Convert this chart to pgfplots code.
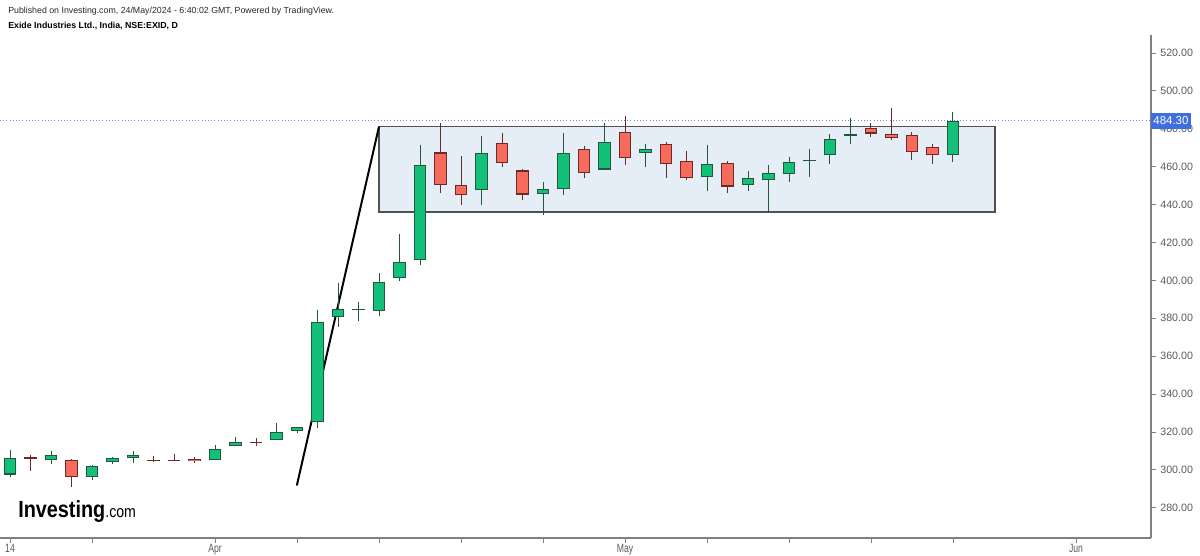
\documentclass[border=0pt]{standalone}
\usepackage{pgfplots}
\pgfplotsset{compat=1.18}
\usepackage{pgfplotstable}
\usepackage{fontspec}
\setmainfont{Liberation Sans}
\newfontfamily\narrowfont[FakeStretch=0.72]{Liberation Sans}
\newfontfamily\logofont[FakeStretch=0.85]{Liberation Sans}

\definecolor{upfill}{HTML}{12C07A}
\definecolor{upline}{HTML}{22573B}
\definecolor{dnfill}{HTML}{F76A5C}
\definecolor{dnline}{HTML}{6E2B25}
\definecolor{boxfill}{HTML}{E5EDF7}
\definecolor{boxline}{HTML}{505050}
\definecolor{pricebl}{HTML}{3D6FE0}
\definecolor{axgray}{HTML}{808080}
\definecolor{lblgray}{HTML}{5A5A5A}

% daily candles, index 0 = 14 Mar; bot/top = body (open/close)
% rising days: bot = open, top = close
\pgfplotstableread{
i low high bot top
0 296.0 310.6 297.5 306.3
2 303.2 309.7 305.0 307.6
4 294.7 302.6 296.4 302.1
5 303.2 307.0 304.0 306.3
6 303.8 309.7 306.2 308.0
10 305.0 313.2 305.3 311.1
11 312.3 317.4 312.5 314.6
13 315.5 324.7 315.9 319.9
14 319.6 322.8 320.4 322.6
15 322.2 384.4 325.2 378.0
16 375.5 398.5 380.5 384.7
17 378.7 388.8 384.3 385.1
18 381.2 403.8 384.0 398.9
19 399.7 424.6 401.3 409.8
20 408.2 471.3 410.9 460.7
23 440.0 476.2 447.6 467.0
26 434.7 452.0 445.5 448.3
27 445.3 478.0 448.0 467.4
29 458.0 482.9 458.5 473.2
31 460.0 471.8 467.4 469.5
34 447.0 471.3 454.5 461.2
36 447.0 457.8 450.1 454.0
37 435.8 460.8 452.7 456.5
38 452.0 465.1 455.9 462.5
39 454.8 469.1 462.8 463.6
40 461.6 477.5 466.0 474.4
41 472.2 485.9 476.4 477.5
46 462.6 489.1 466.0 484.3
}\upcandles
% falling days: bot = close, top = open
\pgfplotstableread{
i low high bot top
1 299.6 308.0 305.8 306.5
3 290.7 305.5 296.4 305.3
7 304.0 307.4 304.6 305.4
8 304.5 308.4 304.5 305.2
9 303.5 306.6 304.4 305.9
12 312.7 316.7 314.0 314.8
21 446.2 482.9 450.1 467.5
22 440.0 465.6 444.8 450.2
24 459.8 478.0 462.1 472.3
25 442.6 459.0 445.3 458.0
28 454.1 470.9 456.4 469.5
30 460.8 486.5 464.7 478.5
32 454.1 473.0 461.6 471.8
33 452.7 468.3 453.8 463.0
35 446.2 462.8 449.5 462.1
42 475.7 483.3 477.5 480.6
43 474.1 491.2 475.3 477.5
44 463.3 478.3 467.9 476.9
45 461.2 471.8 466.0 470.2
}\dncandles

\pgfplotsset{
  wick/.style={draw=none, mark=none, forget plot,
    error bars/.cd, y dir=plus, y explicit, error mark=none,
    error bar style={solid, draw=#1, line width=0.75pt}},
  body/.style={draw=none, mark=none, forget plot,
    error bars/.cd, y dir=plus, y explicit, error mark=none,
    error bar style={solid, draw=#1, line width=9.6pt}},
  inner/.style={draw=none, mark=none, forget plot,
    error bars/.cd, y dir=plus, y explicit, error mark=none,
    error bar style={solid, draw=#1, line width=8.0pt}},
}

\begin{document}
\begin{tikzpicture}[x=1pt,y=1pt]
\useasboundingbox (0,0) rectangle (900,417);
\begin{axis}[
  at={(0pt,13.5pt)}, anchor=south west,
  scale only axis, width=863.25pt, height=377.25pt,
  xmin=-0.49, xmax=55.66, ymin=264.0, ymax=529.5,
  axis x line=bottom, axis y line=right,
  axis line style={-, axgray, line width=0.8pt},
  tick align=outside, major tick length=3.5pt,
  tick style={axgray, line width=0.6pt},
  xtick={0,4,10,14,18,22,26,30,34,38,42,46,52},
  xticklabels={14,,Apr,,,,,May,,,,,Jun},
  x tick label style={font=\narrowfont\fontsize{9}{10}\selectfont, text=lblgray, yshift=2pt},
  ytick={280,300,...,520},
  y tick label style={font=\fontsize{8}{9}\selectfont, text=lblgray,
    /pgf/number format/fixed, /pgf/number format/fixed zerofill,
    /pgf/number format/precision=2, /pgf/number format/1000 sep={},
    /pgf/number format/assume math mode=true},
  extra y ticks={484.3},
  extra y tick labels={484.30},
  extra y tick style={
    ymajorgrids=true,
    major grid style={pricebl!80, dotted, line width=0.5pt},
    major tick length=0pt,
    y tick label style={fill=pricebl, text=white, font=\fontsize{8.6}{9}\selectfont,
      inner xsep=1.6pt, inner ysep=3pt},
  },
]
% consolidation box and trend line
\addplot[fill=boxfill, draw=boxline, line width=1.1pt] coordinates {
  (18.0,436.1) (48.05,436.1) (48.05,481.2) (18.0,481.2)} -- cycle;
\addplot[black, line width=1.5pt] coordinates {(13.99,291.7) (18.0,481.2)};

% wicks
\addplot[wick=upline] table[x=i, y=low, y error plus expr=\thisrow{high}-\thisrow{low}] {\upcandles};
\addplot[wick=dnline] table[x=i, y=low, y error plus expr=\thisrow{high}-\thisrow{low}] {\dncandles};
% bodies: dark outline, then fill inset by the border width
\addplot[body=upline] table[x=i, y=bot, y error plus expr=\thisrow{top}-\thisrow{bot}] {\upcandles};
\addplot[body=dnline] table[x=i, y=bot, y error plus expr=\thisrow{top}-\thisrow{bot}] {\dncandles};
\addplot[inner=upfill] table[x=i, y expr=\thisrow{bot}+0.563,
  y error plus expr={max(\thisrow{top}-\thisrow{bot}-1.126,0)}] {\upcandles};
\addplot[inner=dnfill] table[x=i, y expr=\thisrow{bot}+0.563,
  y error plus expr={max(\thisrow{top}-\thisrow{bot}-1.126,0)}] {\dncandles};
\end{axis}

\node[anchor=west, inner sep=0, font=\fontsize{6.6}{7}\selectfont, text=black!85]
  at (6,408.5) {Published on Investing.com, 24/May/2024 - 6:40:02 GMT, Powered by TradingView.};
\node[anchor=west, inner sep=0, font=\bfseries\fontsize{6.6}{7}\selectfont]
  at (6,397.2) {Exide Industries Ltd., India, NSE:EXID, D};
\node[anchor=base west, inner sep=0] at (13.5,29)
  {\logofont\bfseries\fontsize{17.5}{18}\selectfont Investing\fontsize{12.5}{13}\mdseries .com};
\end{tikzpicture}
\end{document}
